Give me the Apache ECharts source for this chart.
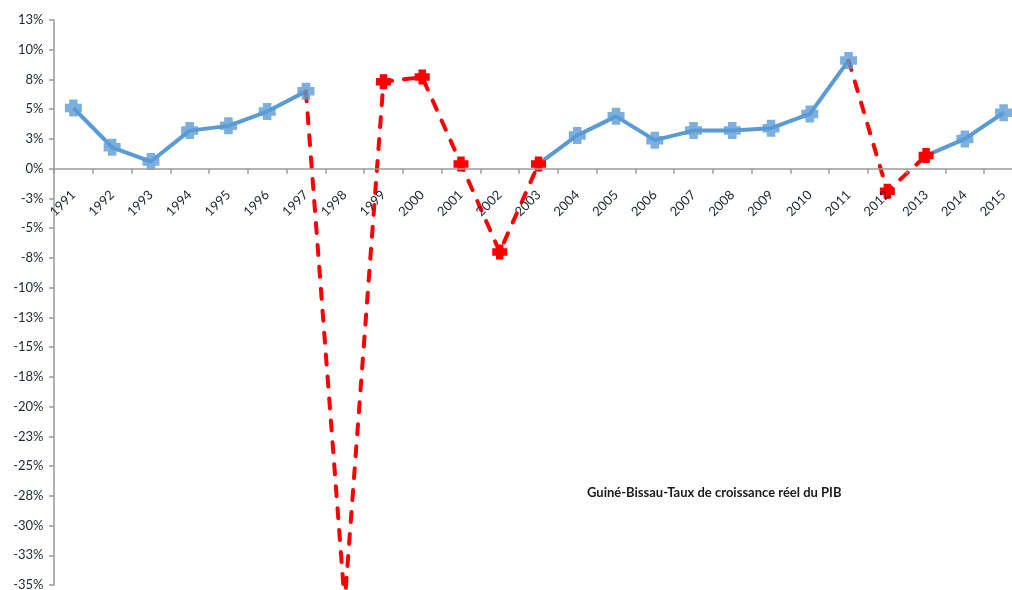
<!DOCTYPE html>
<html>
<head>
<meta charset="utf-8">
<script src="https://cdn.jsdelivr.net/npm/echarts@6/dist/echarts.min.js"></script>
<style>
html,body{margin:0;padding:0;background:#fff;}
#chart{width:1012px;height:590px;}
</style>
</head>
<body>
<div id="chart"></div>
<script>
const years = ['1991','1992','1993','1994','1995','1996','1997','1998','1999','2000','2001','2002','2003','2004','2005','2006','2007','2008','2009','2010','2011','2012','2013','2014','2015'];
const growth = [5.1, 1.8, 0.6, 3.2, 3.6, 4.8, 6.5, -36.5, 7.3, 7.7, 0.4, -7.0, 0.4, 2.8, 4.4, 2.4, 3.2, 3.2, 3.4, 4.6, 9.1, -1.9, 1.1, 2.5, 4.7];
const redYears = ['1998','1999','2000','2001','2002','2003','2012','2013'];
const titleText = 'Guiné-Bissau-Taux de croissance réel du PIB';

const marker = 'path://M4,0 L12,0 L12,4 L16,4 L16,12 L12,12 L12,16 L4,16 L4,12 L0,12 L0,4 L4,4 Z';
const n = years.length;
const isRed = i => redYears.includes(years[i]);

const blueLine = growth.map((v, i) => (!isRed(i) || (i + 1 < n && !isRed(i + 1))) ? v : null);
const blueMarks = growth.map((v, i) => !isRed(i) ? v : null);
const redLine = growth.map((v, i) => (isRed(i) || (i + 1 < n && isRed(i + 1)))
  ? { value: v, symbol: isRed(i) ? marker : 'none' } : { value: null });

function pctLabel(v) {
  const r = Math.sign(v) * Math.round(Math.abs(v));
  return r + '%\u2002';
}

const W = 1012, H = 590, gTop = 20, gBottom = 5;
const yMin = -35, yMax = 12.5;
const zeroOffset = -((H - gTop - gBottom) * (0 - yMin) / (yMax - yMin));

const chart = echarts.init(document.getElementById('chart'));
chart.setOption({
  animation: false,
  backgroundColor: '#fff',
  textStyle: { fontFamily: 'Lato' },
  title: {
    text: titleText,
    left: 582, top: 481,
    textStyle: { fontFamily: 'Lato', fontSize: 13, fontWeight: 'bold', color: '#1a1a1a' }
  },
  grid: { left: 54, right: -11, top: gTop, bottom: gBottom, containLabel: false, outerBoundsMode: 'none' },
  xAxis: {
    type: 'category',
    data: years,
    boundaryGap: true,
    position: 'bottom',
    offset: zeroOffset,
    z: 10,
    axisLine: { onZero: false, lineStyle: { color: '#9a9a9a', width: 1.5 } },
    axisTick: { show: true, length: 5, inside: false, alignWithLabel: false, lineStyle: { color: '#9a9a9a', width: 1.5 } },
    axisLabel: {
      rotate: 45, interval: 0, margin: 24, fontSize: 13, color: '#1f2633', fontFamily: 'Lato',
      hideOverlap: false
    },
    splitLine: { show: false }
  },
  yAxis: {
    type: 'value',
    min: yMin, max: yMax, interval: 2.5,
    axisLine: { show: true, lineStyle: { color: '#9a9a9a', width: 1.5 } },
    axisTick: { show: true, length: 5, lineStyle: { color: '#9a9a9a', width: 1.5 } },
    axisLabel: { fontSize: 13, color: '#1f2633', margin: 4, fontFamily: 'Lato', formatter: pctLabel },
    splitLine: { show: false }
  },
  series: [
    {
      type: 'line', data: blueLine, z: 2, symbol: 'none', connectNulls: false,
      lineStyle: { color: '#5b9bd5', width: 4, join: 'round' }
    },
    {
      type: 'line', data: redLine, z: 3, connectNulls: false, clip: false,
      symbolSize: 15,
      itemStyle: { color: '#ff0000' },
      lineStyle: { color: '#ff0000', width: 4, type: [10, 12], cap: 'round' }
    },
    {
      type: 'scatter', data: blueMarks, z: 4, symbol: marker, symbolSize: 17,
      itemStyle: { color: '#5b9bd5' }
    }
  ]
});
</script>
</body>
</html>
